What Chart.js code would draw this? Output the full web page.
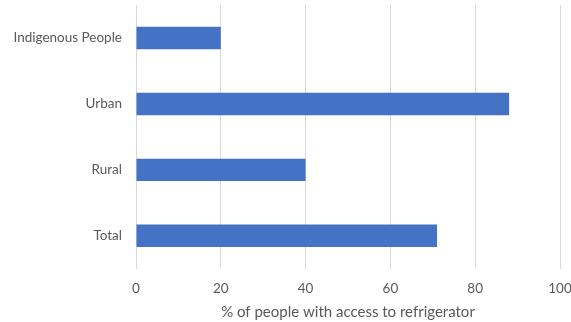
<!DOCTYPE html>
<html>
<head>
<meta charset="utf-8">
<script src="https://cdn.jsdelivr.net/npm/chart.js@4"></script>
<style>
  html, body { margin: 0; padding: 0; background: #fff; }
  #wrap { width: 571px; height: 322px; }
</style>
</head>
<body>
<div id="wrap"><canvas id="fridgeChart"></canvas></div>
<script>
const groups = ["Indigenous People", "Urban", "Rural", "Total"];
const accessPct = [20, 88, 40, 71];
const axisTitle = "% of people with access to refrigerator";

const textGrey = "#595959";
const fontFamily = "Lato, 'Open Sans', sans-serif";

new Chart(document.getElementById("fridgeChart"), {
  type: "bar",
  data: {
    labels: groups,
    datasets: [{
      data: accessPct,
      backgroundColor: "#4472c4",
      categoryPercentage: 1,
      barPercentage: 0.34
    }]
  },
  options: {
    indexAxis: "y",
    responsive: true,
    maintainAspectRatio: false,
    animation: false,
    layout: { padding: { top: 5, right: 0, left: 0, bottom: 1 } },
    plugins: { legend: { display: false }, tooltip: { enabled: false } },
    scales: {
      x: {
        min: 0,
        max: 100,
        ticks: { stepSize: 20, color: textGrey, font: { family: fontFamily, size: 13.5 }, padding: 11.5 },
        grid: { color: "#d9d9d9", lineWidth: 1, drawTicks: false },
        border: { display: false },
        title: {
          display: true,
          text: axisTitle,
          color: textGrey,
          font: { family: fontFamily, size: 15 },
          padding: { top: -5, bottom: 0 }
        },
        afterFit(scale) { scale.paddingLeft = 0; scale.paddingRight = 11; }
      },
      y: {
        ticks: { color: textGrey, font: { family: fontFamily, size: 13.5 }, padding: 6 },
        grid: { display: false },
        border: { display: false },
        afterFit(scale) { scale.width = 136; scale.paddingTop = 0; scale.paddingBottom = 0; }
      }
    }
  }
});
</script>
</body>
</html>
